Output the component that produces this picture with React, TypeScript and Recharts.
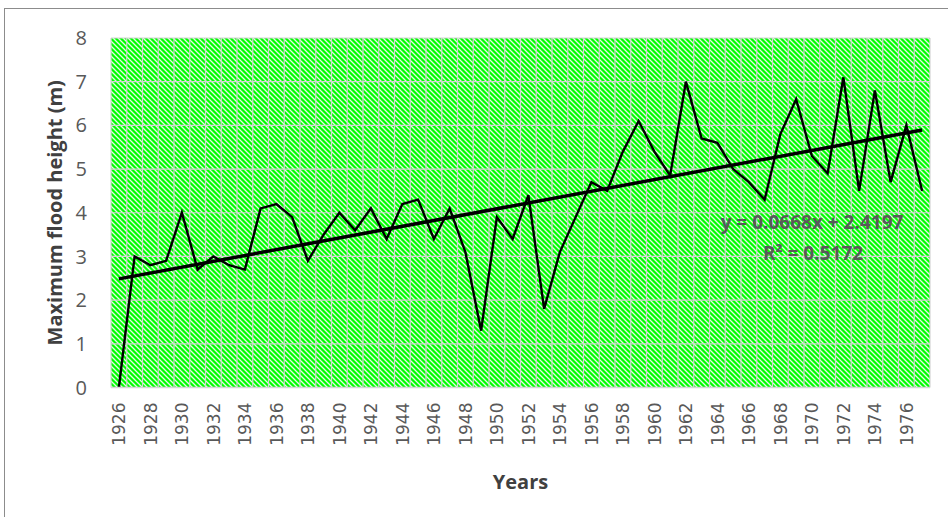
import { LineChart, Line, XAxis, YAxis, CartesianGrid, ReferenceLine, Label } from 'recharts';

const years = [
  1926, 1927, 1928, 1929, 1930, 1931, 1932, 1933, 1934, 1935, 1936, 1937, 1938,
  1939, 1940, 1941, 1942, 1943, 1944, 1945, 1946, 1947, 1948, 1949, 1950, 1951,
  1952, 1953, 1954, 1955, 1956, 1957, 1958, 1959, 1960, 1961, 1962, 1963, 1964,
  1965, 1966, 1967, 1968, 1969, 1970, 1971, 1972, 1973, 1974, 1975, 1976, 1977,
];

const floodHeight = [
  0, 3.0, 2.8, 2.9, 4.0, 2.7, 3.0, 2.8, 2.7, 4.1, 4.2, 3.9, 2.9,
  3.5, 4.0, 3.6, 4.1, 3.4, 4.2, 4.3, 3.4, 4.1, 3.1, 1.3, 3.9, 3.4,
  4.4, 1.8, 3.1, 3.9, 4.7, 4.5, 5.4, 6.1, 5.4, 4.85, 7.0, 5.7, 5.6,
  5.0, 4.7, 4.3, 5.8, 6.6, 5.3, 4.9, 7.1, 4.5, 6.8, 4.7, 6.0, 4.5,
];

const yTicks = [0, 1, 2, 3, 4, 5, 6, 7, 8];

// linear trend shown on the chart: y = slope * n + intercept, n = 1..N
const trendSlope = 0.0668;
const trendIntercept = 2.4197;

const data = years.map((year, i) => ({ year, height: floodHeight[i] }));
const trendStart = trendSlope * 1 + trendIntercept;
const trendEnd = trendSlope * years.length + trendIntercept;

const grey = '#595959';
const plotWidth = 948 - 111 - 18;
const halfBand = plotWidth / years.length / 2;

function YearTick({ x, y, payload }: any) {
  return (
    <g transform={`translate(${x},${y})`}>
      <text
        transform="rotate(-90)"
        textAnchor="end"
        dy="0.36em"
        fill={grey}
        fontFamily="DejaVu Sans"
        fontSize={17}
      >
        {payload.value}
      </text>
    </g>
  );
}

function YTitle({ viewBox }: any) {
  const cy = viewBox.y + viewBox.height / 2;
  return (
    <text
      transform={`translate(62,${cy}) rotate(-90)`}
      textAnchor="middle"
      fill="#404040"
      fontFamily="Open Sans"
      fontWeight={700}
      fontSize={20}
    >
      Maximum flood height (m)
    </text>
  );
}

export default function App() {
  return (
    <div
      style={{
        position: 'absolute',
        left: 0,
        top: 0,
        width: 948,
        height: 517,
        overflow: 'hidden',
        background: '#fff',
      }}
    >
      <div
        style={{
          position: 'absolute',
          left: 4,
          top: 8,
          width: 960,
          height: 530,
          border: '1.5px solid #8c8c8c',
        }}
      />
      <div style={{ position: 'absolute', left: 0, top: 0 }}>
        <LineChart
          width={948}
          height={517}
          data={data}
          margin={{ top: 38, right: 18, bottom: 0, left: 0 }}
        >
          <defs>
            <pattern id="hatch" patternUnits="userSpaceOnUse" width="5" height="5">
              <rect width="5" height="5" fill="#00ff00" />
              <path
                d="M-1,-1 L6,6 M-1,4 L1,6 M4,-1 L6,1"
                stroke="#e6f6e6"
                strokeWidth={1.3}
              />
            </pattern>
          </defs>
          <CartesianGrid
            fill="url(#hatch)"
            fillOpacity={1}
            stroke="#d4d4d4"
            strokeWidth={1.2}
            verticalCoordinatesGenerator={({ offset }: any) =>
              Array.from({ length: years.length + 1 }, (_, i) => offset.left + (i * offset.width) / years.length)
            }
          />
          <XAxis
            dataKey="year"
            type="category"
            height={129.5}
            interval={1}
            padding={{ left: halfBand, right: halfBand }}
            tickLine={false}
            tickSize={0}
            tickMargin={15}
            axisLine={{ stroke: '#d4d4d4', strokeWidth: 1.5 }}
            tick={<YearTick />}
          >
            <Label
              value="Years"
              position="insideBottom"
              offset={28}
              fill="#404040"
              fontFamily="Open Sans"
              fontWeight={700}
              fontSize={20}
            />
          </XAxis>
          <YAxis
            width={111}
            domain={[0, 8]}
            ticks={yTicks}
            tickLine={false}
            tickSize={0}
            tickMargin={24}
            axisLine={false}
            tick={{ fill: grey, fontFamily: 'Open Sans', fontSize: 20 }}
          >
            <Label content={<YTitle />} />
          </YAxis>
          <Line
            type="linear"
            dataKey="height"
            stroke="#000"
            strokeWidth={2.4}
            dot={false}
            isAnimationActive={false}
          />
          <ReferenceLine
            segment={[
              { x: years[0], y: trendStart },
              { x: years[years.length - 1], y: trendEnd },
            ]}
            stroke="#000"
            strokeWidth={3.5}
            ifOverflow="visible"
          />
          <text
            x={812}
            y={229}
            textAnchor="middle"
            fill={grey}
            fontFamily="Open Sans"
            fontWeight={700}
            fontSize={19}
          >
            y = 0.0668x + 2.4197
          </text>
          <text
            x={813}
            y={260}
            textAnchor="middle"
            fill={grey}
            fontFamily="Open Sans"
            fontWeight={700}
            fontSize={19}
          >
            R² = 0.5172
          </text>
        </LineChart>
      </div>
    </div>
  );
}
